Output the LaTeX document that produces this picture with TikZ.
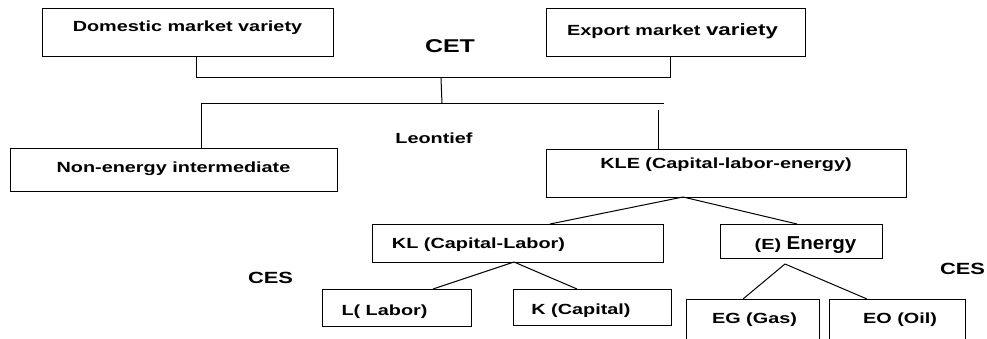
\documentclass[tikz,border=0pt]{standalone}
\usepackage{fontspec}
\setmainfont{Liberation Sans}
\newfontfamily\wf[FakeStretch=1.35]{Liberation Sans}
\newfontfamily\nf[FakeStretch=1.1]{Liberation Sans}
\begin{document}
\begin{tikzpicture}[x=1pt,y=-1pt,
  box/.style={draw, line width=1pt, inner sep=0pt, rectangle},
  lab/.style={inner sep=0pt, anchor=base, font=\wf\bfseries\fontsize{14.7}{16}\selectfont},
  biglab/.style={inner sep=0pt, anchor=base, font=\wf\bfseries\fontsize{18.5}{20}\selectfont},
  ceslab/.style={inner sep=0pt, anchor=base, font=\wf\bfseries\fontsize{16.2}{18}\selectfont},
  conn/.style={line width=1pt}]
\useasboundingbox (0,0) rectangle (987,339);
\clip (0,0) rectangle (987,339);
% boxes
\node[box, minimum width=291pt, minimum height=48pt] (dom) at (187.5,33) {};
\node[box, minimum width=259pt, minimum height=48pt] (exp) at (675.5,33) {};
\node[box, minimum width=327pt, minimum height=43pt] (non) at (173.5,170.5) {};
\node[box, minimum width=360pt, minimum height=47pt] (kle) at (726,173.5) {};
\node[box, minimum width=291pt, minimum height=38pt] (kl) at (517.5,243) {};
\node[box, minimum width=162pt, minimum height=34pt] (en) at (801,241) {};
\node[box, minimum width=149pt, minimum height=37pt] (lb) at (396.5,307.5) {};
\node[box, minimum width=158pt, minimum height=36pt] (cp) at (592,307) {};
\node[box, minimum width=133pt, minimum height=51pt] (eg) at (752.5,324.5) {};
\node[box, minimum width=136pt, minimum height=51pt] (eo) at (897,324.5) {};
% texts
\node[lab] (tdom) at (187.5,31.7) {Domestic market variety};
\node[lab] (texp) at (672.5,36) {Export market {\fontsize{16.5}{18}\selectfont variety}};
\node[biglab] (tcet) at (450,53) {CET};
\node[lab] (tleo) at (434,144) {Leontief};
\node[lab] (tnon) at (173.5,173) {Non-energy intermediate};
\node[lab] (tkle) at (726,169) {KLE (Capital-labor-energy)};
\node[lab] (tkl) at (478.5,248) {KL (Capital-Labor)};
\node[lab] (ten) at (805.5,249) {(E) {\nf\bfseries\fontsize{18.7}{20}\selectfont Energy}};
\node[lab] (tlb) at (384.5,315) {L( Labor)};
\node[lab] (tcp) at (581,314) {K (Capital)};
\node[lab] (teg) at (754.5,323) {EG (Gas)};
\node[lab] (teo) at (900,323) {EO (Oil)};
\node[ceslab] (ces1) at (270.5,283) {CES};
\node[ceslab] (ces2) at (962.5,274) {CES};
% connector points
\coordinate (d1) at (196,57);
\coordinate (j1) at (196,78);
\coordinate (j2) at (670,78);
\coordinate (e1) at (670,57);
\coordinate (m1) at (441,78);
\coordinate (m2) at (442,104);
\coordinate (h1) at (201,104);
\coordinate (h2) at (664,104);
\coordinate (n1) at (201,149);
\coordinate (r1) at (658,110);
\coordinate (r2) at (658,150);
\coordinate (kb) at (683,197);
\coordinate (klt) at (550,224);
\coordinate (ent) at (797,224);
\coordinate (klb) at (514,262);
\coordinate (lbt) at (433,289);
\coordinate (cpt) at (577,289);
\coordinate (enb) at (785,264);
\coordinate (egt) at (743,299);
\coordinate (eot) at (867,299);
% connectors
\draw[conn] (d1) -- (j1) -- (j2) -- (e1);
\draw[conn] (m1) -- (m2);
\draw[conn] (h1) -- (h2);
\draw[conn] (h1) -- (n1);
\draw[conn] (r1) -- (r2);
\draw[conn] (kb) -- (klt);
\draw[conn] (kb) -- (ent);
\draw[conn] (klb) -- (lbt);
\draw[conn] (klb) -- (cpt);
\draw[conn] (enb) -- (egt);
\draw[conn] (enb) -- (eot);
\end{tikzpicture}
\end{document}
